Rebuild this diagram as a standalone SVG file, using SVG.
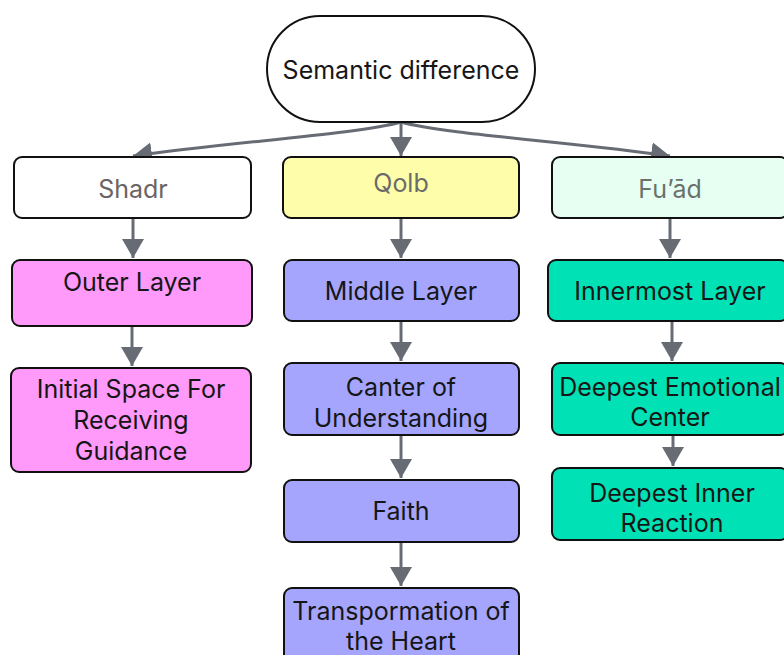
<svg xmlns="http://www.w3.org/2000/svg" width="784" height="655" viewBox="0 0 784 655">
  <style>
    .box { stroke: #111; stroke-width: 2; }
    .t { font-family: Inter, "Noto Sans", "Liberation Sans", sans-serif; font-size: 25px; fill: #161616; text-anchor: middle; }
    .head { fill: #6b6464; }
    .edge { fill: none; stroke: #676c74; stroke-width: 3; }
    .pink { fill: #ff99fa; }
    .blue { fill: #a5a5fe; }
    .teal { fill: #00e1b5; }
  </style>
  <defs>
    <marker id="arrow" markerUnits="userSpaceOnUse" markerWidth="20" markerHeight="24" refX="19" refY="11" orient="auto">
      <path d="M0,0 L19,11 L0,22 Z" fill="#676c74"/>
    </marker>
  </defs>

  <rect width="784" height="655" fill="#fff"/>

  <!-- connectors -->
  <g id="connectors">
    <path class="edge" d="M401,122 C360,134 230,142 133,156" marker-end="url(#arrow)"/>
    <path class="edge" d="M401,122 L401,156" marker-end="url(#arrow)"/>
    <path class="edge" d="M401,122 C442,134 572,142 670,156" marker-end="url(#arrow)"/>
    <path class="edge" d="M133,218 L133,258" marker-end="url(#arrow)"/>
    <path class="edge" d="M132,326 L132,366" marker-end="url(#arrow)"/>
    <path class="edge" d="M401,218 L401,258" marker-end="url(#arrow)"/>
    <path class="edge" d="M401,321 L401,361" marker-end="url(#arrow)"/>
    <path class="edge" d="M401,435 L401,478" marker-end="url(#arrow)"/>
    <path class="edge" d="M401,542 L401,586" marker-end="url(#arrow)"/>
    <path class="edge" d="M670,218 L670,258" marker-end="url(#arrow)"/>
    <path class="edge" d="M672,321 L672,361" marker-end="url(#arrow)"/>
    <path class="edge" d="M673,435 L673,466" marker-end="url(#arrow)"/>
  </g>

  <!-- root -->
  <g id="semantic-difference">
    <rect class="box" x="267" y="16" width="268" height="106" rx="53" fill="#fff"/>
    <text class="t" x="401" y="79">Semantic difference</text>
  </g>

  <!-- Shadr column -->
  <g id="shadr">
    <rect class="box" x="14" y="157" width="237" height="61" rx="8" fill="#fff"/>
    <text class="t head" x="133" y="198">Shadr</text>
  </g>
  <g id="outer-layer">
    <rect class="box pink" x="12" y="260" width="240" height="66" rx="8"/>
    <text class="t" x="132" y="291">Outer Layer</text>
  </g>
  <g id="initial-space">
    <rect class="box pink" x="11" y="368" width="240" height="104" rx="8"/>
    <text class="t" x="131" y="398">Initial Space For</text>
    <text class="t" x="131" y="429">Receiving</text>
    <text class="t" x="131" y="460">Guidance</text>
  </g>

  <!-- Qolb column -->
  <g id="qolb">
    <rect class="box" x="283" y="157" width="236" height="61" rx="8" fill="#fefeaa"/>
    <text class="t head" x="401" y="192" style="fill:#6b6b6b">Qolb</text>
  </g>
  <g id="middle-layer">
    <rect class="box blue" x="284" y="260" width="235" height="61" rx="8"/>
    <text class="t" x="401" y="300">Middle Layer</text>
  </g>
  <g id="center-of-understanding">
    <rect class="box blue" x="284" y="363" width="235" height="72" rx="8"/>
    <text class="t" x="401" y="396">Canter of</text>
    <text class="t" x="401" y="427">Understanding</text>
  </g>
  <g id="faith">
    <rect class="box blue" x="284" y="480" width="235" height="62" rx="8"/>
    <text class="t" x="401" y="520">Faith</text>
  </g>
  <g id="transformation">
    <rect class="box blue" x="284" y="588" width="235" height="74" rx="8"/>
    <text class="t" x="401" y="620">Transpormation of</text>
    <text class="t" x="401" y="650">the Heart</text>
  </g>

  <!-- Fu'ad column -->
  <g id="fuad">
    <rect class="box" x="552" y="157" width="236" height="61" rx="8" fill="#e6fff2"/>
    <text class="t head" x="670" y="198" style="fill:#6a716d">Fu’ād</text>
  </g>
  <g id="innermost-layer">
    <rect class="box teal" x="548" y="260" width="240" height="61" rx="8"/>
    <text class="t" x="670" y="300">Innermost Layer</text>
  </g>
  <g id="deepest-emotional-center">
    <rect class="box teal" x="552" y="363" width="236" height="72" rx="8"/>
    <text class="t" x="670" y="396">Deepest Emotional</text>
    <text class="t" x="670" y="426">Center</text>
  </g>
  <g id="deepest-inner-reaction">
    <rect class="box teal" x="552" y="468" width="236" height="72" rx="8"/>
    <text class="t" x="672" y="502">Deepest Inner</text>
    <text class="t" x="672" y="532">Reaction</text>
  </g>
</svg>
